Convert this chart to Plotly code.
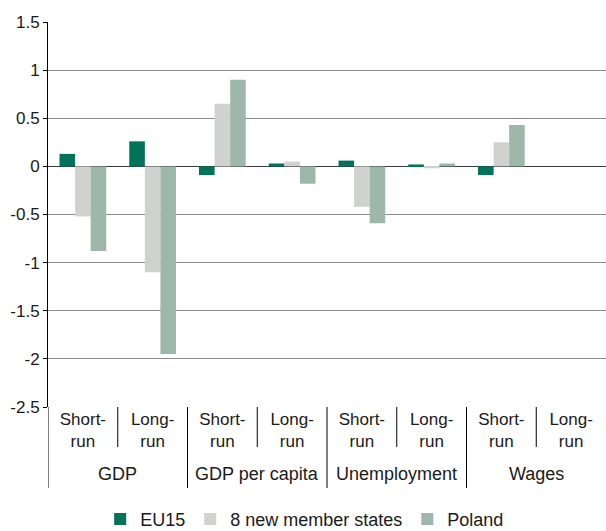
import plotly.graph_objects as go

# Indicators and horizons
groups = ["GDP", "GDP", "GDP per capita", "GDP per capita",
          "Unemployment", "Unemployment", "Wages", "Wages"]
horizons = ["Short-<br>run", "Long-<br>run", "Short-<br>run", "Long-<br>run",
            "Short-<br>run", "Long-<br>run", "Short-<br>run", "Long-<br>run"]

# Effects by region
eu15 = [0.13, 0.26, -0.09, 0.03, 0.06, 0.02, -0.09, None]
nms8 = [-0.52, -1.10, 0.65, 0.05, -0.42, -0.02, 0.25, None]
poland = [-0.88, -1.95, 0.90, -0.18, -0.59, 0.03, 0.43, None]

# Y axis ticks
y_ticks = [1.5, 1, 0.5, 0, -0.5, -1, -1.5, -2, -2.5]
y_tick_labels = ["1.5", "1", "0.5", "0", "-0.5", "-1", "-1.5", "-2", "-2.5"]

FONT = "Liberation Sans, Arial, Helvetica, sans-serif"
TXT = "#1a1a1a"

xpos = list(range(len(horizons)))

fig = go.Figure()
for name, vals, col in [("EU15", eu15, "#00735a"),
                        ("8 new member states", nms8, "#d0d2d0"),
                        ("Poland", poland, "#9db8aa")]:
    fig.add_trace(go.Bar(x=xpos, y=vals, name=name, marker_color=col,
                         marker_line_width=0))

fig.update_layout(
    width=606, height=531,
    margin=dict(l=48, r=0, t=22, b=124, autoexpand=False),
    plot_bgcolor="white", paper_bgcolor="white",
    barmode="group", bargap=0.33, bargroupgap=0,
    font=dict(family=FONT, size=17, color=TXT),
    showlegend=True,
    legend=dict(orientation="h", x=0.46, xanchor="center",
                yref="container", y=0.022, yanchor="middle",
                font=dict(size=18, color=TXT),
                itemwidth=30, traceorder="normal"),
)

fig.update_yaxes(
    range=[-2.5, 1.5], tickvals=y_ticks, ticktext=y_tick_labels,
    showgrid=True, gridcolor="#8c8c8c", gridwidth=1,
    zeroline=True, zerolinecolor="#3a3a3a", zerolinewidth=1,
    showline=True, linecolor="black", linewidth=1,
    ticks="outside", ticklen=4, tickcolor="black",
    tickfont=dict(size=17, color=TXT), automargin=False,
)

fig.update_xaxes(
    range=[-0.5, len(horizons) - 0.5],
    tickvals=xpos, ticktext=horizons, ticks="",
    showgrid=False, zeroline=False, showline=False,
    tickfont=dict(size=17, color=TXT), automargin=False,
)

# Dividers below the axis: short between horizons, long between indicators
for i in range(len(horizons) - 1):
    boundary = i + 0.5
    long_div = groups[i] != groups[i + 1]
    fig.add_shape(type="line", xref="x", yref="paper",
                  x0=boundary, x1=boundary,
                  ysizemode="pixel", yanchor=0,
                  y0=0, y1=-81 if long_div else -40,
                  line=dict(color="black", width=1))
# left edge continues down past the category labels
fig.add_shape(type="line", xref="x", yref="paper", x0=-0.5, x1=-0.5,
              ysizemode="pixel", yanchor=0, y0=0, y1=-81,
              line=dict(color="black", width=1))

# Indicator labels centred under their horizons
seen = []
for g in groups:
    if g not in seen:
        seen.append(g)
for g in seen:
    idx = [i for i, gg in enumerate(groups) if gg == g]
    fig.add_annotation(x=sum(idx) / len(idx), xref="x",
                       y=0, yref="paper", yshift=-67, yanchor="middle",
                       text=g, showarrow=False,
                       font=dict(size=18, color=TXT))

fig.write_html("out.html")
